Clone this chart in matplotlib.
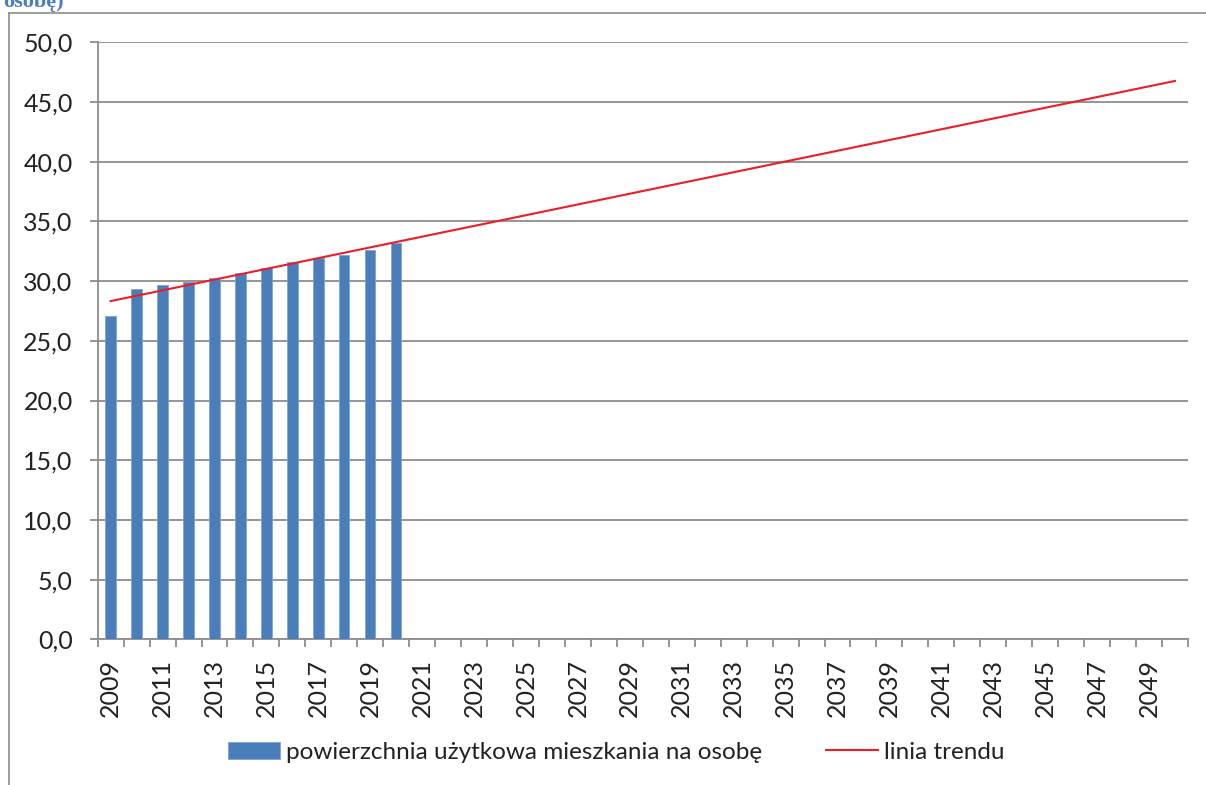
import numpy as np
import matplotlib.pyplot as plt
from matplotlib.lines import Line2D

plt.rcParams['font.family'] = ['Lato', 'DejaVu Sans']

# lata na osi kategorii (2009-2050), dane tylko do 2020
years = list(range(2009, 2051))
area_years = [2009, 2010, 2011, 2012, 2013, 2014, 2015, 2016, 2017, 2018, 2019, 2020]
area_per_person = [27.1, 29.3, 29.7, 29.9, 30.3, 30.7, 31.1, 31.6, 31.9, 32.2, 32.6, 33.2]

bar_label = 'powierzchnia użytkowa mieszkania na osobę'
trend_label = 'linia trendu'

grid_col = '#8c8c8c'
bar_col = '#4a7ebb'
txt_col = '#222222'

fig = plt.figure(figsize=(12.06, 7.85), dpi=100)
ax = fig.add_axes([0.081, 0.1856, 0.904, 0.7605])

idx = np.array([years.index(y) for y in area_years])
bars = ax.bar(idx, area_per_person, width=0.4, color=bar_col, edgecolor='#7ea3d4',
              linewidth=0.6, zorder=3, label=bar_label)

# liniowa linia trendu dopasowana do danych, przedluzona do 2050
coef = np.polyfit(idx, area_per_person, 1)
xs = np.arange(len(years))
trend, = ax.plot(xs, np.polyval(coef, xs), color='#ee1c25', lw=1.5, zorder=4,
                 label=trend_label)

ax.set_xlim(-0.5, len(years) - 0.5)
ax.set_ylim(0, 50)
ax.set_yticks(np.arange(0, 50.1, 5))
ax.set_yticklabels([f'{v:.1f}'.replace('.', ',') for v in np.arange(0, 50.1, 5)])
ax.yaxis.grid(True, color=grid_col, lw=1.3, zorder=0)
ax.set_axisbelow(True)

ax.set_xticks(np.arange(-0.5, len(years), 1.0))
ax.set_xticklabels([])
ax.set_xticks(xs[::2], minor=True)
ax.set_xticklabels([str(y) for y in years[::2]], minor=True, rotation=90)

ax.tick_params(axis='y', length=6, width=1.3, color=grid_col, pad=12, labelsize=18,
               labelcolor=txt_col)
ax.tick_params(axis='x', which='major', length=6, width=1.3, color=grid_col)
ax.tick_params(axis='x', which='minor', length=0, pad=14, labelsize=18,
               labelcolor=txt_col)

for s in ['top', 'right']:
    ax.spines[s].set_visible(False)
for s in ['left', 'bottom']:
    ax.spines[s].set_color(grid_col)
    ax.spines[s].set_linewidth(1.3)

fig.legend(handles=[bars, trend], loc='center', bbox_to_anchor=(0.511, 0.042),
           ncol=2, frameon=False, fontsize=17.5, handlelength=2.15,
           handletextpad=0.25, columnspacing=2.6, labelcolor=txt_col)

# ramka obszaru wykresu (przycieta) i urwany tytul
fig.add_artist(Line2D([8.5 / 1206, 8.5 / 1206], [0, 1 - 13 / 785],
                      transform=fig.transFigure, color=grid_col, lw=1.2))
fig.add_artist(Line2D([8.5 / 1206, 1], [1 - 13 / 785, 1 - 13 / 785],
                      transform=fig.transFigure, color=grid_col, lw=1.2))
fig.text(3 / 1206, 1 - 7 / 785, 'osobę)', fontsize=16, fontweight='bold',
         family=['Liberation Serif', 'DejaVu Serif'], color='#4a7ebb',
         ha='left', va='baseline')

fig.savefig('out.png', dpi=100)
